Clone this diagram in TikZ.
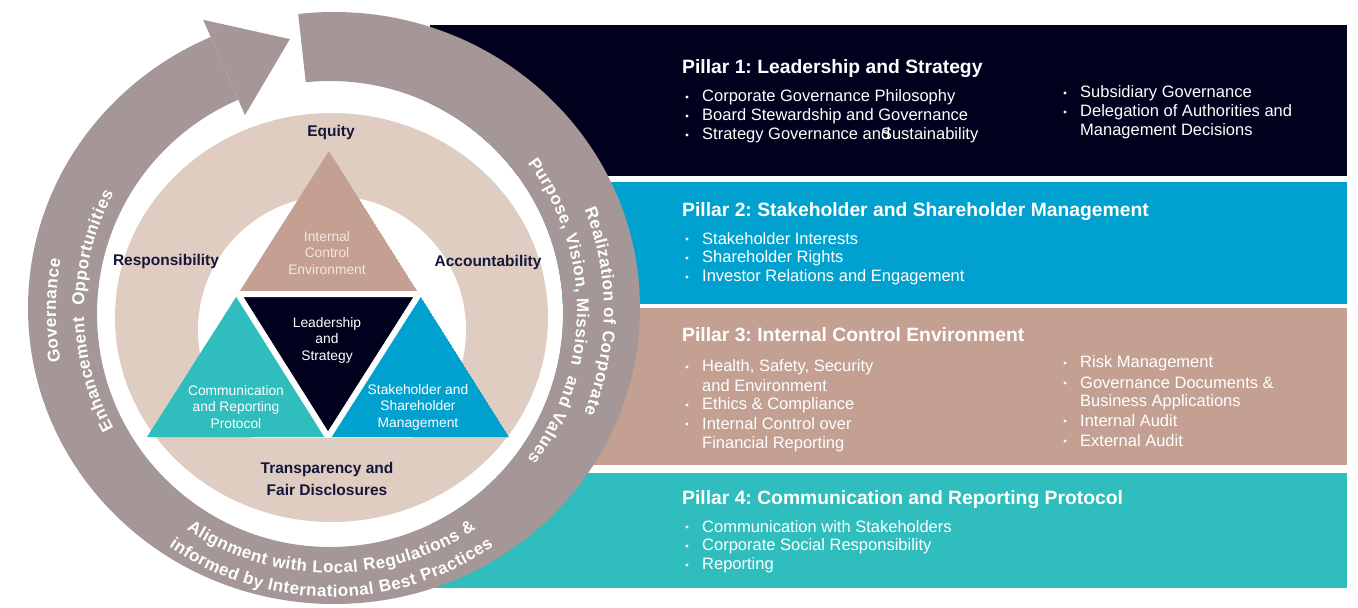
\documentclass[tikz,border=0pt]{standalone}
\usepackage{fontspec}
\setmainfont{Liberation Sans}
\usepackage{tikz}
\usetikzlibrary{positioning,decorations.text}
\frenchspacing

\definecolor{pnavy}{HTML}{01011E}
\definecolor{psky}{HTML}{00A1CF}
\definecolor{pclay}{HTML}{C3A091}
\definecolor{pteal}{HTML}{2FBDBD}
\definecolor{ringgrey}{HTML}{A59797}
\definecolor{sandtan}{HTML}{DFCDC2}
\definecolor{inkblue}{HTML}{16163A}
\definecolor{blush}{HTML}{F4E8E2}

\newcommand\ringtxt{\bfseries\fontsize{17}{17}\selectfont\kern0.5pt}

\begin{document}
\begin{tikzpicture}[
  x=1pt, y=-1pt,
  title/.style={anchor=west, inner sep=0, text=white, font=\bfseries\fontsize{19.3}{22}\selectfont},
  item/.style={anchor=west, inner sep=0, text=white, font=\fontsize{16.5}{19}\selectfont},
  bul/.style={circle, fill=white, inner sep=0, minimum size=3.4pt},
  pillar/.style={align=center, inner sep=0, text=white, font=\fontsize{13.8}{16.5}\selectfont},
  value/.style={align=center, inner sep=0, text=inkblue, font=\bfseries\fontsize{15.5}{22}\selectfont},
  ringtext/.style={decorate, decoration={text along path, text align=center, text color=white, text={|\ringtxt|#1}}}
]
\useasboundingbox (0,0) rectangle (1358,608);

% Pillar panels
\fill[pnavy] (430,25) rectangle (1347,176);
\fill[psky] (430,182) rectangle (1347,304);
\fill[pclay] (430,308) rectangle (1347,465);
\fill[pteal] (430,473) rectangle (1347,588);

% Pillar 1
\node[title] (t1) at (682,69) {Pillar 1: Leadership and Strategy};
\foreach \t [count=\i] in {Corporate Governance Philosophy, Board Stewardship and Governance, Strategy Governance an\rlap{d}Sustainability}
  {\node[item] (p1l\i) at (702,78+19*\i) {\t};
   \node[bul] (b1l\i) at (687,78+19*\i) {};}
\foreach \y/\b/\t in {93/1/Subsidiary Governance, 112/1/Delegation of Authorities and, 131/0/Management Decisions}
  {\node[item] (p1r\y) at (1080,\y) {\t};
   \ifnum\b=1 \node[bul] (b1r\y) at (1065,\y) {};\fi}

% Pillar 2
\node[title] (t2) at (682,212) {Pillar 2: Stakeholder and Shareholder Management};
\foreach \t [count=\i] in {Stakeholder Interests, Shareholder Rights, Investor Relations and Engagement}
  {\node[item] (p2l\i) at (702,220+19*\i) {\t};
   \node[bul] (b2l\i) at (687,220+19*\i) {};}

% Pillar 3
\node[title] (t3) at (682,335) {Pillar 3: Internal Control Environment};
\foreach \y/\b/\t in {367/1/{Health, Safety, Security}, 386/0/and Environment, 405/1/Ethics \& Compliance, 424/1/Internal Control over, 444/0/Financial Reporting}
  {\node[item] (p3l\y) at (702,\y) {\t};
   \ifnum\b=1 \node[bul] (b3l\y) at (687,\y) {};\fi}
\foreach \y/\b/\t in {363/1/Risk Management, 383/1/Governance Documents \&, 402/0/Business Applications, 421/1/Internal Audit, 441/1/External Audit}
  {\node[item] (p3r\y) at (1080,\y) {\t};
   \ifnum\b=1 \node[bul] (b3r\y) at (1065,\y) {};\fi}

% Pillar 4
\node[title] (t4) at (682,500) {Pillar 4: Communication and Reporting Protocol};
\foreach \t [count=\i] in {Communication with Stakeholders, Corporate Social Responsibility, Reporting}
  {\node[item] (p4l\i) at (702,508+19*\i) {\t};
   \node[bul] (b4l\i) at (687,508+19*\i) {};}

% Outer ring with arrow
\fill[white] (330,314) circle [radius=233];
\begin{scope}
  \clip[shift={(331,311)}] (0,0) -- (263.7:500) -- (320:500) -- (0:500) -- (60:500) -- (120:500)
    -- (180:500) -- (225:500) -- (246.3:500) -- cycle;
  \fill[ringgrey, even odd rule] (334,308) ellipse [x radius=306, y radius=296] (330,314) circle [radius=233];
\end{scope}
\fill[ringgrey, shift={(331,311)}] (246.3:318) -- (261.4:275) -- (246.3:214) -- cycle;

% Values ring
\fill[sandtan] (331.5,317.5) ellipse [x radius=216.5, y radius=204.5];
\begin{scope}
  \clip (100,100) rectangle (560,437);
  \fill[white] (332,330) circle [radius=134];
\end{scope}

% Triangle of pillars
\coordinate (apex) at (329,151);
\coordinate (bl) at (147,437);
\coordinate (br) at (509,437);
\coordinate (ml) at (238,294);
\coordinate (mr) at (419,294);
\coordinate (mb) at (328,437);
\begin{scope}
  \clip (apex) -- (bl) -- (br) -- cycle;
  \fill[pclay] (apex) -- (ml) -- (mr) -- cycle;
  \fill[pteal] (ml) -- (bl) -- (mb) -- cycle;
  \fill[psky] (mr) -- (mb) -- (br) -- cycle;
  \fill[pnavy] (ml) -- (mr) -- (mb) -- cycle;
  \draw[white, line width=6pt] (ml) -- (mr) -- (mb) -- cycle;
\end{scope}

\node[pillar, text=blush] (ice) at (327,253) {Internal\\Control\\Environment};
\node[pillar] (ls) at (327,340) {Leadership\\and\\Strategy};
\node[pillar] (crp) at (236,407) {Communication\\and Reporting\\Protocol};
\node[pillar] (ssm) at (418,407) {Stakeholder and\\Shareholder\\Management};

% Values
\node[value] (eq) at (331,132) {Equity};
\node[value] (resp) at (166,261) {Responsibility};
\node[value] (acc) at (488,262) {Accountability};
\node[value] (tfd) at (327,479) {Transparency and\\Fair Disclosures};

% Ring texts
\begin{scope}[shift={(331,311)}]
  \path[ringtext={Governance}] (140:275) arc [start angle=140, end angle=220, radius=275];
  \path[ringtext={Enhancement {\ }Opportunities}] (125:247) arc [start angle=125, end angle=235, radius=247];
  \path[ringtext={Realization of Corporate}] (-40:273) arc [start angle=-40, end angle=40, radius=273];
  \path[ringtext={Purpose, Vision, Mission {\ }and Values}] (-55:246) arc [start angle=-55, end angle=55, radius=246];
  \path[ringtext={Alignment with Local Regulations {\&}}] (145:262) arc [start angle=145, end angle=35, radius=262];
  \path[ringtext={informed by International Best Practices}] (145:286) arc [start angle=145, end angle=35, radius=286];
\end{scope}

\end{tikzpicture}
\end{document}
